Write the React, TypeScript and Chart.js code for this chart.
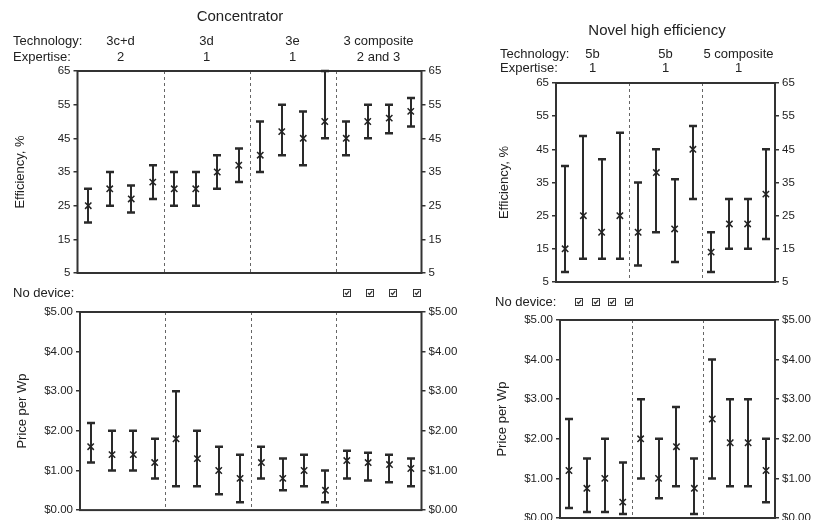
import React, { useEffect, useRef } from 'react';
import { Chart, registerables } from 'chart.js';
Chart.register(...registerables);

const FONT = '"Liberation Sans", Arial, Helvetica, sans-serif';
Chart.defaults.font.family = FONT;

// ---------- Data ----------
const concGroups = ['3c+d', '3d', '3e', '3 composite'];
const concExpertise = ['2', '1', '1', '2 and 3'];
const concEffMid = [25, 30, 27, 32, 30, 30, 35, 37, 40, 47, 45, 50, 45, 50, 51, 53];
const concEffLow = [20, 25, 23, 27, 25, 25, 30, 32, 35, 40, 37, 45, 40, 45, 46.5, 48.5];
const concEffHigh = [30, 35, 31, 37, 35, 35, 40, 42, 50, 55, 53, 65, 50, 55, 55, 57];
const concPriceMid = [1.6, 1.4, 1.4, 1.2, 1.8, 1.3, 1.0, 0.8, 1.2, 0.8, 1.0, 0.5, 1.25, 1.2, 1.15, 1.05];
const concPriceLow = [1.2, 1.0, 1.0, 0.8, 0.6, 0.6, 0.4, 0.2, 0.8, 0.5, 0.6, 0.2, 0.8, 0.75, 0.7, 0.6];
const concPriceHigh = [2.2, 2.0, 2.0, 1.8, 3.0, 2.0, 1.6, 1.4, 1.6, 1.3, 1.4, 1.0, 1.5, 1.45, 1.4, 1.3];
const concNoDevice = [0, 0, 0, 0, 0, 0, 0, 0, 0, 0, 0, 0, 1, 1, 1, 1];

const novelGroups = ['5b', '5b', '5 composite'];
const novelExpertise = ['1', '1', '1'];
const novelEffMid = [15, 25, 20, 25, 20, 38, 21, 45, 14, 22.5, 22.5, 31.5];
const novelEffLow = [8, 12, 12, 12, 10, 20, 11, 30, 8, 15, 15, 18];
const novelEffHigh = [40, 49, 42, 50, 35, 45, 36, 52, 20, 30, 30, 45];
const novelPriceMid = [1.2, 0.75, 1.0, 0.4, 2.0, 1.0, 1.8, 0.75, 2.5, 1.9, 1.9, 1.2];
const novelPriceLow = [0.25, 0.15, 0.15, 0.1, 1.0, 0.5, 0.8, 0.1, 1.0, 0.8, 0.8, 0.4];
const novelPriceHigh = [2.5, 1.5, 2.0, 1.4, 3.0, 2.0, 2.8, 1.5, 4.0, 3.0, 3.0, 2.0];
const novelNoDevice = [1, 1, 1, 1, 0, 0, 0, 0, 0, 0, 0, 0];

const PER_GROUP = 4;
const effRange = { min: 5, max: 65, step: 10 };
const priceRange = { min: 0, max: 5, step: 1 };
const effFmt = (v: number) => String(v);
const priceFmt = (v: number) => '$' + Number(v).toFixed(2);

const makeLabels = (groups: string[]) =>
  groups.flatMap((g, gi) => Array.from({ length: PER_GROUP }, (_, k) => `${g} #${gi + 1}.${k + 1}`));

// ---------- Plugin ----------
const panelPlugin = {
  id: 'panel',
  beforeDatasetsDraw(chart: any, _args: any, o: any) {
    const { ctx, chartArea: a, scales } = chart;
    const xs = scales.x;
    const ys = scales.y;
    ctx.save();
    // group dividers
    ctx.strokeStyle = '#666';
    ctx.lineWidth = 1;
    ctx.setLineDash([3, 3]);
    for (let g = 1; g < o.nGroups; g++) {
      const px = Math.round((xs.getPixelForValue(g * PER_GROUP - 1) + xs.getPixelForValue(g * PER_GROUP)) / 2) + 0.5;
      ctx.beginPath();
      ctx.moveTo(px, a.top);
      ctx.lineTo(px, a.bottom);
      ctx.stroke();
    }
    ctx.setLineDash([]);
    // frame
    ctx.strokeStyle = '#333';
    ctx.lineWidth = 2;
    ctx.strokeRect(a.left, a.top, a.right - a.left, a.bottom - a.top);
    // error bars
    const meta = chart.getDatasetMeta(0);
    ctx.strokeStyle = '#2a2a2a';
    meta.data.forEach((el: any, i: number) => {
      const x = Math.round(el.x);
      const yl = ys.getPixelForValue(o.low[i]);
      const yh = ys.getPixelForValue(o.high[i]);
      ctx.lineWidth = 2;
      ctx.beginPath();
      ctx.moveTo(x, yl);
      ctx.lineTo(x, yh);
      ctx.stroke();
      ctx.lineWidth = 2.5;
      ctx.beginPath();
      ctx.moveTo(x - 4, yl);
      ctx.lineTo(x + 4, yl);
      ctx.moveTo(x - 4, yh);
      ctx.lineTo(x + 4, yh);
      ctx.stroke();
    });
    ctx.restore();
  },
  afterDraw(chart: any, _args: any, o: any) {
    const { ctx, scales } = chart;
    const xs = scales.x;
    ctx.save();
    ctx.fillStyle = '#222';
    ctx.textBaseline = 'middle';
    if (o.header) {
      const h = o.header;
      ctx.font = `15px ${FONT}`;
      ctx.textAlign = 'center';
      ctx.fillText(h.title, h.titleX, h.titleY);
      ctx.font = `13px ${FONT}`;
      ctx.textAlign = 'left';
      ctx.fillText('Technology:', h.labelX, h.techY);
      ctx.fillText('Expertise:', h.labelX, h.expY);
      ctx.textAlign = 'center';
      h.groups.forEach((g: string, gi: number) => {
        const cx = (xs.getPixelForValue(gi * PER_GROUP) + xs.getPixelForValue(gi * PER_GROUP + PER_GROUP - 1)) / 2;
        ctx.fillText(g, cx, h.techY);
        ctx.fillText(h.expertise[gi], cx, h.expY);
      });
    }
    if (o.noDevice) {
      const nd = o.noDevice;
      ctx.font = `13px ${FONT}`;
      ctx.textAlign = 'left';
      ctx.fillText('No device:', nd.textX, nd.y);
      const idx = nd.flags.map((f: number, i: number) => (f ? i : -1)).filter((i: number) => i >= 0);
      if (idx.length) {
        const x0 = xs.getPixelForValue(idx[0]) + nd.startOffset;
        ctx.strokeStyle = '#333';
        idx.forEach((_i: number, r: number) => {
          const cx = Math.round(x0 + r * nd.step);
          const cy = Math.round(nd.y);
          ctx.lineWidth = 1;
          ctx.strokeRect(cx - 3.5, cy - 3.5, 7, 7);
          ctx.lineWidth = 1.2;
          ctx.beginPath();
          ctx.moveTo(cx - 2, cy);
          ctx.lineTo(cx - 0.5, cy + 1.5);
          ctx.lineTo(cx + 2.2, cy - 1.8);
          ctx.stroke();
        });
      }
    }
    ctx.restore();
  },
};

// ---------- Panel ----------
type PanelProps = {
  x: number; y: number; w: number; h: number;
  leftW: number; rightW: number; padTop: number; padBottom: number;
  labels: string[]; mid: number[]; low: number[]; high: number[];
  range: { min: number; max: number; step: number };
  fmt: (v: number) => string;
  yTitle: string; titlePad: number; nGroups: number;
  header?: any; noDevice?: any;
};

function Panel(p: PanelProps) {
  const ref = useRef<HTMLCanvasElement>(null);
  useEffect(() => {
    if (!ref.current) return;
    const axis = (pos: 'left' | 'right', width: number, withTitle: boolean) => ({
      position: pos,
      min: p.range.min,
      max: p.range.max,
      afterFit: (s: any) => { s.width = width; },
      border: { display: false },
      grid: { drawOnChartArea: false, drawTicks: true, color: '#333', tickLength: 4, lineWidth: 1.5 },
      ticks: { stepSize: p.range.step, color: '#222', font: { size: 11.5 }, padding: 3, callback: (v: any) => p.fmt(Number(v)) },
      title: withTitle
        ? { display: true, text: p.yTitle, color: '#222', font: { size: 13 }, padding: { top: p.titlePad, bottom: 0 } }
        : { display: false },
    });
    const chart = new Chart(ref.current, {
      type: 'line',
      data: {
        labels: p.labels,
        datasets: [{
          data: p.mid,
          showLine: false,
          pointStyle: 'crossRot',
          pointRadius: 4.5,
          pointHoverRadius: 4.5,
          pointBorderWidth: 1.5,
          borderColor: '#222',
          backgroundColor: '#222',
        }],
      },
      options: {
        responsive: false,
        animation: false,
        events: [],
        layout: { padding: { top: p.padTop, bottom: p.padBottom, left: 0, right: 0 } },
        plugins: {
          legend: { display: false },
          tooltip: { enabled: false },
          panel: { nGroups: p.nGroups, low: p.low, high: p.high, header: p.header, noDevice: p.noDevice },
        } as any,
        scales: {
          x: { type: 'category', offset: true, display: false },
          y: axis('left', p.leftW, true) as any,
          y2: axis('right', p.rightW, false) as any,
        },
      },
      plugins: [panelPlugin as any],
    });
    return () => chart.destroy();
  }, []);
  return (
    <canvas
      ref={ref}
      width={p.w}
      height={p.h}
      style={{ position: 'absolute', left: p.x, top: p.y, width: p.w, height: p.h }}
    />
  );
}

export default function App() {
  const concLabels = makeLabels(concGroups);
  const novelLabels = makeLabels(novelGroups);
  return (
    <div style={{ position: 'absolute', left: 0, top: 0, width: 815, height: 520, background: '#fff', overflow: 'hidden' }}>
      <Panel
        x={0} y={0} w={470} h={285}
        leftW={77.5} rightW={48.5} padTop={71} padBottom={12}
        labels={concLabels} mid={concEffMid} low={concEffLow} high={concEffHigh}
        range={effRange} fmt={effFmt} yTitle="Efficiency, %" titlePad={13} nGroups={concGroups.length}
        header={{ title: 'Concentrator', titleX: 240, titleY: 17, labelX: 13, techY: 41, expY: 57, groups: concGroups, expertise: concExpertise }}
      />
      <Panel
        x={0} y={285} w={470} h={235}
        leftW={80} rightW={48.5} padTop={27} padBottom={8.5}
        labels={concLabels} mid={concPriceMid} low={concPriceLow} high={concPriceHigh}
        range={priceRange} fmt={priceFmt} yTitle="Price per Wp" titlePad={15} nGroups={concGroups.length}
        noDevice={{ flags: concNoDevice, textX: 13, y: 8, startOffset: 0, step: 23.3 }}
      />
      <Panel
        x={470} y={0} w={345} h={295}
        leftW={86} rightW={40} padTop={83} padBottom={13}
        labels={novelLabels} mid={novelEffMid} low={novelEffLow} high={novelEffHigh}
        range={effRange} fmt={effFmt} yTitle="Efficiency, %" titlePad={27} nGroups={novelGroups.length}
        header={{ title: 'Novel high efficiency', titleX: 187, titleY: 31, labelX: 30, techY: 54, expY: 68, groups: novelGroups, expertise: novelExpertise }}
      />
      <Panel
        x={470} y={295} w={345} h={235}
        leftW={90} rightW={40} padTop={25} padBottom={12}
        labels={novelLabels} mid={novelPriceMid} low={novelPriceLow} high={novelPriceHigh}
        range={priceRange} fmt={priceFmt} yTitle="Price per Wp" titlePad={25} nGroups={novelGroups.length}
        noDevice={{ flags: novelNoDevice, textX: 25, y: 7, startOffset: 10, step: 16.7 }}
      />
    </div>
  );
}
